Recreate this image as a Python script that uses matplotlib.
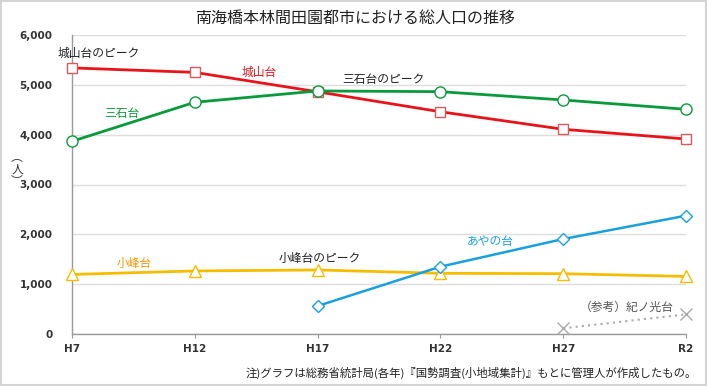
import matplotlib
matplotlib.use("Agg")
import matplotlib.pyplot as plt
from matplotlib.patches import Rectangle

plt.rcParams['font.family'] = ['Noto Sans CJK JP', 'DejaVu Sans']

years = ["H7", "H12", "H17", "H22", "H27", "R2"]
joyamadai = [5340, 5250, 4860, 4460, 4108, 3913]
mitsuishidai = [3867, 4650, 4877, 4863, 4696, 4509]
komine = [1195, 1265, 1285, 1218, 1210, 1155]
ayanodai = [562, 1351, 1906, 2374]  # H17..R2
kinokodai = [114, 395]  # H27, R2
yticks = [0, 1000, 2000, 3000, 4000, 5000, 6000]
yticklabels = ["0", "1,000", "2,000", "3,000", "4,000", "5,000", "6,000"]

W, H = 707, 386
fig = plt.figure(figsize=(W / 100, H / 100), dpi=100)
fig.patch.set_facecolor("white")
fig.add_artist(Rectangle((0.001, 0.002), 0.998, 0.996, transform=fig.transFigure,
                         fill=False, edgecolor="#d4d4d4", linewidth=1.5))

ax = fig.add_axes([72 / W, 1 - 334 / H, (686 - 72) / W, (334 - 35) / H])
ax.set_xlim(0, 5)
ax.set_ylim(0, 6000)
x = list(range(len(years)))

red = "#e8141c"
green = "#0a9a3c"
yellow = "#f5bd00"
blue = "#1aa0dc"
gray = "#aaaaaa"

ax.plot(x, joyamadai, color=red, lw=2, marker="s", ms=7.5, mfc="white", mec="#d95a5a", mew=1, zorder=4, clip_on=False)
ax.plot(x, mitsuishidai, color=green, lw=2, marker="o", ms=8, mfc="white", mec=green, mew=1, zorder=5, clip_on=False)
ax.plot(x, komine, color=yellow, lw=2, marker="^", ms=8.5, mfc="white", mec=yellow, mew=1, zorder=4, clip_on=False)
ax.plot(x[2:], ayanodai, color=blue, lw=1.8, marker="D", ms=6, mfc="white", mec=blue, mew=1, zorder=4, clip_on=False)
ax.plot(x[4:], kinokodai, color=gray, lw=1.5, ls=(0, (1, 2)), marker="x", ms=8, mec=gray, mew=1, zorder=3, clip_on=False)

ax.set_yticks(yticks)
ax.set_yticklabels(yticklabels, fontfamily="DejaVu Sans", fontsize=7.5, fontweight="bold", color="#333333")
ax.set_xticks(x)
ax.set_xticklabels(years, fontfamily="DejaVu Sans", fontsize=7.5, fontweight="bold", color="#333333")
ax.tick_params(axis="y", length=0, pad=14)
ax.tick_params(axis="x", length=3, color="#999999", pad=4)
ax.grid(axis="y", color="#dddddd", lw=1)
ax.set_axisbelow(True)
for s in ["top", "right"]:
    ax.spines[s].set_visible(False)
for s in ["left", "bottom"]:
    ax.spines[s].set_color("#999999")
    ax.spines[s].set_linewidth(1)

fig.text(355 / W, 1 - 18 / H, "南海橋本林間田園都市における総人口の推移", ha="center", va="center",
         fontsize=11.5, color="#222222")
fig.text(17 / W, 1 - 169 / H, "︵\n人\n︶", ha="center", va="center", fontsize=8.5, linespacing=0.9, color="#333333")

def t(px, py, s, color, ha="left", size=8.5):
    fig.text(px / W, 1 - py / H, s, ha=ha, va="center", fontsize=size, color=color)

t(58, 53, "城山台のピーク", "#222222")
t(242, 72, "城山台", red)
t(342, 80, "三石台のピーク", "#222222")
t(104, 113, "三石台", green)
t(117, 263, "小峰台", "#f39800")
t(279, 258, "小峰台のピーク", "#222222")
t(467, 242, "あやの台", blue)
t(580, 307, "（参考）紀ノ光台", "#555555")
t(697, 373, "注)グラフは総務省統計局(各年)『国勢調査(小地域集計)』もとに管理人が作成したもの。", "#222222", ha="right", size=8.2)

fig.savefig("out.png", dpi=100)
